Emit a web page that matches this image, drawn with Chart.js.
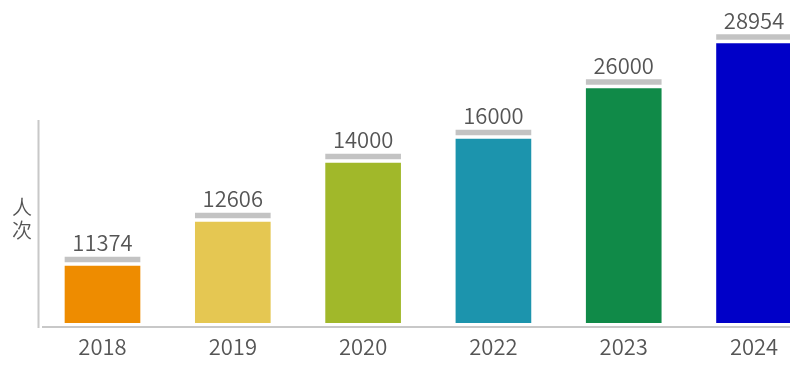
<!DOCTYPE html>
<html>
<head>
<meta charset="utf-8">
<script src="https://cdn.jsdelivr.net/npm/chart.js@4"></script>
<style>
  html, body { margin: 0; padding: 0; background: #fff; }
  #wrap { width: 800px; height: 368px; }
</style>
</head>
<body>
<div id="wrap"><canvas id="c" width="800" height="368"></canvas></div>
<script>
  /* ── Data ── */
  var years = ["2018", "2019", "2020", "2022", "2023", "2024"];
  var values = [11374, 12606, 14000, 16000, 26000, 28954];
  // bar lengths as drawn in the source picture (not to scale with the values)
  var barHeights = [57, 101, 160, 184, 234.5, 279.5];
  var colors = ["#ee8c00", "#e5c752", "#a1b82a", "#1c94ad", "#108a48", "#0000c8"];
  var yTitle = ["人", "次"];

  var FONT = '"Noto Sans CJK SC", "Noto Sans", sans-serif';
  var TEXT = "#555555";
  var LINE = "#c8c8c8";

  /* ── Axis lines, value labels, y title ── */
  var decor = {
    id: "decor",
    afterDatasetsDraw: function (chart) {
      var ctx = chart.ctx;
      var area = chart.chartArea;
      ctx.save();
      ctx.strokeStyle = LINE;
      ctx.lineWidth = 2;
      ctx.beginPath();
      ctx.moveTo(38.5, 120);
      ctx.lineTo(38.5, 328);
      ctx.moveTo(42, area.bottom + 4);
      ctx.lineTo(790, area.bottom + 4);
      ctx.stroke();

      ctx.fillStyle = TEXT;
      ctx.font = "350 22px " + FONT;
      ctx.textAlign = "center";
      ctx.textBaseline = "alphabetic";
      var meta = chart.getDatasetMeta(0);
      meta.data.forEach(function (bar, i) {
        ctx.fillText(String(values[i]), bar.x, bar.y - 15);
      });

      ctx.font = "350 20px " + FONT;
      ctx.textBaseline = "middle";
      yTitle.forEach(function (t, i) {
        ctx.fillText(t, 22, 207 + i * 23);
      });
      ctx.restore();
    }
  };

  new Chart(document.getElementById("c"), {
    type: "bar",
    data: {
      datasets: [
        {
          data: barHeights.map(function (h, i) { return { x: i, y: h }; }),
          backgroundColor: colors,
          barThickness: 75,
          grouped: false,
          order: 1
        },
        {
          // grey cap above each bar
          data: barHeights.map(function (h, i) { return { x: i, y: [h + 4, h + 9] }; }),
          backgroundColor: "#c3c3c3",
          barThickness: 75,
          grouped: false,
          order: 2
        }
      ]
    },
    options: {
      responsive: false,
      animation: false,
      events: [],
      layout: { padding: { left: 38, right: 10, top: 23, bottom: 0 } },
      plugins: { legend: { display: false }, tooltip: { enabled: false } },
      scales: {
        x: {
          type: "linear",
          offset: false,
          min: -0.495,
          max: 5.276,
          grid: { display: false, drawTicks: false },
          border: { display: false },
          afterBuildTicks: function (axis) {
            axis.ticks = years.map(function (y, i) { return { value: i }; });
          },
          afterFit: function (axis) { axis.height = 45; },
          ticks: {
            padding: 10,
            color: TEXT,
            font: { family: FONT, size: 22, weight: 350 },
            callback: function (v) { return years[v]; }
          }
        },
        y: {
          display: false,
          min: 0,
          max: 300
        }
      }
    },
    plugins: [decor]
  });
</script>
</body>
</html>
